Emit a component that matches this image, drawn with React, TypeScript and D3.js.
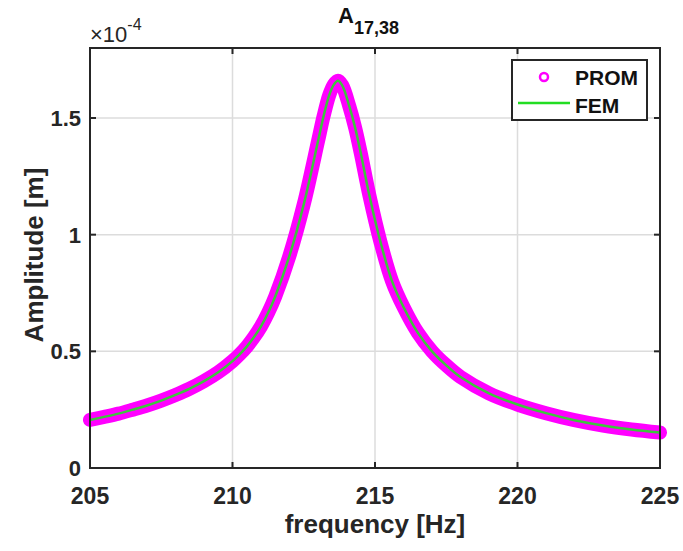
import React from "react";
import * as d3 from "d3";

const freq = [205, 205.5, 206, 206.5, 207, 207.5, 208, 208.5, 209, 209.5, 210, 210.25, 210.5, 210.75, 211, 211.25, 211.5, 212, 212.5, 213, 213.2, 213.4, 213.55, 213.7, 213.85, 214.1, 214.3, 214.5, 214.8, 215.2, 215.6, 216, 216.5, 217, 217.5, 218, 219, 220, 221, 222, 223, 224, 225];
const promAmp = [0.206, 0.219, 0.233, 0.25, 0.268, 0.289, 0.313, 0.34, 0.372, 0.41, 0.458, 0.487, 0.52, 0.56, 0.607, 0.665, 0.735, 0.91, 1.13, 1.4, 1.51, 1.6, 1.642, 1.66, 1.64, 1.55, 1.46, 1.35, 1.17, 0.965, 0.8, 0.69, 0.58, 0.5, 0.44, 0.39, 0.32, 0.272, 0.235, 0.205, 0.182, 0.165, 0.152];
const femAmp = promAmp;
const xTicks = [205, 210, 215, 220, 225];
const yTicks = [0, 0.5, 1, 1.5];
const yTickLabels = ["0", "0.5", "1", "1.5"];
const seriesNames = ["PROM", "FEM"];

const W = 683, H = 551;
const L = 90, R = 660, T = 48, B = 468;
const FONT = "'Liberation Sans', Arial, Helvetica, sans-serif";
const AX = "#262626";

export default function App() {
  const x = d3.scaleLinear().domain([205, 225]).range([L, R]);
  const y = d3.scaleLinear().domain([0, 1.8]).range([B, T]);
  const promLine = d3.line<number>().x((_, i) => x(freq[i])).y((d) => y(d)).curve(d3.curveCatmullRom.alpha(0.5));
  const femLine = d3.line<number>().x((_, i) => x(freq[i])).y((d) => y(d)).curve(d3.curveCatmullRom.alpha(0.5));

  return (
    <svg width={W} height={H} style={{ position: "absolute", left: 0, top: 0, background: "#fff" }} fontFamily={FONT}>
      <rect x={0} y={0} width={W} height={H} fill="#fff" />
      {/* grid */}
      {xTicks.map((t) => (
        <line key={"gx" + t} x1={x(t)} x2={x(t)} y1={T} y2={B} stroke="#dcdcdc" strokeWidth={1.5} />
      ))}
      {yTicks.map((t) => (
        <line key={"gy" + t} x1={L} x2={R} y1={y(t)} y2={y(t)} stroke="#dcdcdc" strokeWidth={1.5} />
      ))}
      {/* data */}
      <path d={promLine(promAmp) || ""} fill="none" stroke="#ff00ff" strokeWidth={14} strokeLinecap="round" strokeLinejoin="round" />
      <path d={femLine(femAmp) || ""} fill="none" stroke="#3fc43f" strokeWidth={2.5} />
      {/* axes box */}
      <rect x={L} y={T} width={R - L} height={B - T} fill="none" stroke={AX} strokeWidth={2} />
      {xTicks.map((t) => (
        <g key={"tx" + t}>
          <line x1={x(t)} x2={x(t)} y1={B} y2={B - 6} stroke={AX} strokeWidth={2} />
          <line x1={x(t)} x2={x(t)} y1={T} y2={T + 6} stroke={AX} strokeWidth={2} />
          <text x={x(t)} y={B + 36} textAnchor="middle" fontSize={23} fontWeight="bold" fill={AX}>{t}</text>
        </g>
      ))}
      {yTicks.map((t, i) => (
        <g key={"ty" + t}>
          <line x1={L} x2={L + 6} y1={y(t)} y2={y(t)} stroke={AX} strokeWidth={2} />
          <line x1={R} x2={R - 6} y1={y(t)} y2={y(t)} stroke={AX} strokeWidth={2} />
          <text x={L - 9} y={y(t) + 8} textAnchor="end" fontSize={22} fontWeight="bold" fill={AX}>{yTickLabels[i]}</text>
        </g>
      ))}
      {/* exponent */}
      <text x={90} y={42} fontSize={22} fill={AX}>
        ×10<tspan dy={-12} fontSize={16}>-4</tspan>
      </text>
      {/* title */}
      <text x={338} y={23} fontSize={22} fontWeight="bold" fill="#111">
        A<tspan dy={11} fontSize={18}>17,38</tspan>
      </text>
      {/* axis labels */}
      <text x={375} y={533} textAnchor="middle" fontSize={26} fontWeight="bold" fill={AX}>frequency [Hz]</text>
      <text transform={`translate(43,255) rotate(-90)`} textAnchor="middle" fontSize={26} fontWeight="bold" fill={AX}>Amplitude [m]</text>
      {/* legend */}
      <rect x={512} y={60} width={135} height={60} fill="#fff" stroke={AX} strokeWidth={2} />
      <circle cx={544} cy={77} r={4} fill="none" stroke="#ff00ff" strokeWidth={2.5} />
      <line x1={518} x2={570} y1={103} y2={103} stroke="#22dd22" strokeWidth={2.5} />
      <text x={575} y={85} fontSize={21} fontWeight="bold" fill="#111">{seriesNames[0]}</text>
      <text x={575} y={113} fontSize={21} fontWeight="bold" fill="#111">{seriesNames[1]}</text>
    </svg>
  );
}
